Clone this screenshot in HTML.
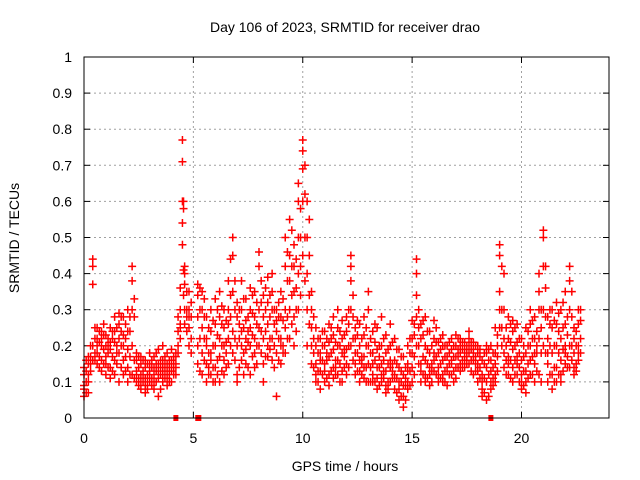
<!DOCTYPE html>
<html><head><meta charset="utf-8"><style>
body{margin:0;background:#fff}
svg{display:block;font-family:"Liberation Sans",sans-serif}
</style></head><body>
<svg id="chart" width="640" height="480" xmlns="http://www.w3.org/2000/svg">
<rect width="640" height="480" fill="#fff"/>
<text x="345" y="32" font-size="14" text-anchor="middle">Day 106 of 2023, SRMTID for receiver drao</text>
<text transform="translate(19,238) rotate(-90)" font-size="14" text-anchor="middle">SRMTID / TECUs</text>
<text x="345" y="471" font-size="14" text-anchor="middle">GPS time / hours</text>
<g id="grid"></g>
<g id="ticks"></g>
<g id="marks"></g>
<rect x="84" y="57" width="525" height="361" fill="none" stroke="#000" stroke-width="1"/>
</svg>
<script>
const xTicks=[0,5,10,15,20];
const yTicks=[0,0.1,0.2,0.3,0.4,0.5,0.6,0.7,0.8,0.9,1];
const yTickLabels=["0","0.1","0.2","0.3","0.4","0.5","0.6","0.7","0.8","0.9","1"];
const times=[0,0.2,0.4,0.6,0.8,1.0,1.2,1.4,1.6,1.8,2.0,2.2,2.4,2.6,2.8,3.0,3.2,3.4,3.6,3.8,4.0,4.2,4.4,4.5,4.6,4.8,5.2,5.4,5.6,5.8,6.0,6.2,6.4,6.6,6.8,7.0,7.2,7.4,7.6,7.8,8.0,8.2,8.4,8.6,8.8,9.0,9.2,9.4,9.6,9.8,10.0,10.2,10.4,10.6,10.8,11.0,11.2,11.4,11.6,11.8,12.0,12.2,12.4,12.6,12.8,13.0,13.2,13.4,13.6,13.8,14.0,14.2,14.4,14.6,14.8,15.0,15.2,15.4,15.6,15.8,16.0,16.2,16.4,16.6,16.8,17.0,17.2,17.4,17.6,17.8,18.0,18.2,18.4,18.6,18.8,19.0,19.2,19.4,19.6,19.8,20.0,20.2,20.4,20.6,20.8,21.0,21.2,21.4,21.6,21.8,22.0,22.2,22.4,22.6];
const values=[
[.06,.09,.12,.08,.14],[.07,.1,.15,.17,.12],[.44,.42,.37,.16,.2],[.15,.18,.22,.2,.25],[.13,.16,.2,.22,.24],
[.12,.2,.17,.23,.15],[.11,.14,.19,.21,.25],[.16,.21,.28,.12,.24],[.1,.18,.22,.26,.29],[.12,.2,.28,.23,.16],
[.1,.19,.3,.24,.14],[.42,.38,.3,.2,.12],[.1,.13,.16,.12,.18],[.08,.12,.15,.1,.17],[.09,.14,.11,.16,.07],
[.1,.13,.15,.12,.18],[.08,.12,.14,.1,.17],[.06,.11,.15,.13,.19],[.1,.14,.16,.12,.2],[.09,.13,.15,.18,.11],
[.1,.14,.13,.16,.19],[.12,.15,.18,.14,.17],[.22,.26,.3,.36,.25],[.77,.71,.6,.54,.48],[.42,.4,.3,.26,.37],
[.25,.3,.28,.35,.2],[.2,.28,.34,.37,.15],[.18,.25,.3,.12,.35],[.1,.15,.22,.28,.2],[.12,.18,.24,.3,.16],
[.14,.2,.26,.33,.1],[.1,.22,.28,.17,.35],[.12,.2,.25,.3,.16],[.15,.22,.3,.38,.26],[.5,.45,.35,.24,.18],
[.12,.2,.28,.32,.1],[.16,.24,.3,.38,.2],[.15,.22,.27,.33,.19],[.12,.2,.25,.3,.36],[.18,.22,.28,.35,.14],
[.46,.42,.3,.25,.2],[.15,.22,.28,.34,.1],[.2,.26,.32,.39,.17],[.4,.35,.3,.22,.16],[.06,.18,.24,.3,.27],
[.15,.22,.28,.35,.2],[.5,.42,.3,.25,.18],[.55,.45,.38,.3,.22],[.48,.42,.35,.28,.2],[.65,.6,.5,.4,.3],
[.77,.74,.69,.6,.45],[.6,.5,.4,.3,.2],[.35,.3,.25,.2,.15],[.1,.15,.2,.25,.12],[.13,.18,.22,.08,.16],
[.1,.15,.2,.24,.13],[.12,.17,.21,.26,.09],[.14,.19,.23,.28,.11],[.12,.16,.2,.25,.3],[.13,.18,.22,.27,.1],
[.15,.19,.24,.28,.12],[.45,.42,.38,.3,.2],[.12,.18,.22,.25,.15],[.1,.16,.2,.26,.13],[.11,.17,.23,.28,.14],
[.35,.3,.2,.15,.1],[.12,.18,.24,.1,.15],[.08,.14,.19,.25,.11],[.1,.15,.2,.28,.12],[.09,.13,.18,.23,.07],
[.1,.14,.2,.26,.16],[.08,.12,.16,.22,.11],[.05,.1,.14,.19,.08],[.03,.06,.12,.17,.09],[.1,.15,.2,.13,.08],
[.1,.14,.22,.27,.18],[.44,.4,.34,.28,.2],[.1,.15,.22,.26,.13],[.12,.16,.2,.28,.1],[.09,.14,.18,.24,.12],
[.13,.18,.22,.27,.16],[.1,.14,.18,.21,.12],[.12,.16,.2,.23,.1],[.14,.17,.2,.13,.09],[.12,.16,.19,.22,.15],
[.14,.17,.2,.23,.11],[.15,.18,.2,.22,.13],[.14,.17,.19,.21,.16],[.15,.18,.2,.22,.24],[.12,.16,.19,.21,.17],
[.1,.15,.18,.2,.13],[.06,.08,.12,.16,.1],[.05,.1,.14,.18,.2],[.1,.13,.16,.2,.08],[.12,.15,.18,.25,.1],
[.48,.45,.35,.3,.25],[.4,.3,.22,.18,.14],[.12,.17,.22,.28,.15],[.1,.14,.19,.24,.27],[.12,.17,.21,.26,.15],
[.08,.12,.16,.22,.1],[.1,.13,.18,.25,.07],[.12,.16,.2,.26,.3],[.1,.15,.22,.28,.18],[.4,.35,.3,.22,.12],
[.52,.5,.42,.3,.2],[.15,.22,.28,.18,.1],[.12,.18,.25,.3,.08],[.14,.2,.26,.32,.1],[.1,.16,.22,.3,.12],
[.15,.2,.26,.35,.18],[.42,.38,.3,.2,.14],[.14,.18,.22,.25,.12],[.16,.2,.26,.3,.18]];
const timesB=[0.1,0.3,0.5,0.7,0.9,1.1,1.3,1.5,1.7,1.9,2.1,2.3,2.5,2.7,2.9,3.1,3.3,3.5,3.7,3.9,4.1,4.3,4.55,4.7,4.9,5.3,5.5,5.7,5.9,6.1,6.3,6.5,6.7,6.9,7.1,7.3,7.5,7.7,7.9,8.1,8.3,8.5,8.7,8.9,9.1,9.3,9.5,9.7,9.9,10.1,10.3,10.5,10.7,10.9,11.1,11.3,11.5,11.7,11.9,12.1,12.3,12.5,12.7,12.9,13.1,13.3,13.5,13.7,13.9,14.1,14.3,14.5,14.7,14.9,15.1,15.3,15.5,15.7,15.9,16.1,16.3,16.5,16.7,16.9,17.1,17.3,17.5,17.7,17.9,18.1,18.3,18.5,18.7,18.9,19.1,19.3,19.5,19.7,19.9,20.1,20.3,20.5,20.7,20.9,21.1,21.3,21.5,21.7,21.9,22.1,22.3,22.5,22.7];
const valuesB=[
[.1,.13,.07,.16],[.15,.17,.2,.13],[.16,.22,.25,.18],[.17,.21,.24,.14],[.15,.19,.23,.26],
[.14,.18,.22,.2],[.13,.17,.22,.24],[.15,.2,.25,.18],[.14,.2,.24,.28],[.17,.22,.26,.13],
[.12,.17,.24,.28],[.33,.28,.16,.11],[.11,.14,.17,.09],[.1,.13,.16,.12],[.08,.12,.15,.1],
[.11,.14,.16,.09],[.1,.13,.15,.18],[.08,.12,.14,.16],[.11,.15,.13,.17],[.12,.14,.16,.1],
[.12,.15,.17,.14],[.2,.24,.28,.18],[.6,.58,.41,.34],[.3,.35,.28,.24],[.22,.28,.32,.18],
[.22,.3,.36,.13],[.16,.22,.28,.33],[.12,.18,.25,.14],[.14,.2,.27,.1],[.16,.23,.3,.12],
[.13,.2,.26,.31],[.14,.21,.27,.18],[.2,.28,.34,.44],[.38,.3,.22,.16],[.14,.22,.3,.26],
[.18,.25,.33,.12],[.14,.21,.28,.24],[.17,.23,.29,.34],[.2,.26,.32,.15],[.38,.32,.24,.18],
[.17,.24,.3,.36],[.22,.28,.34,.19],[.3,.26,.2,.14],[.16,.22,.28,.32],[.2,.27,.33,.18],
[.46,.38,.28,.22],[.52,.42,.34,.26],[.44,.36,.3,.24],[.58,.5,.42,.34],[.7,.62,.5,.38],
[.55,.45,.34,.26],[.28,.22,.18,.14],[.13,.18,.22,.1],[.12,.16,.2,.24],[.11,.16,.22,.18],
[.13,.18,.22,.25],[.12,.16,.21,.14],[.15,.2,.24,.1],[.14,.19,.23,.17],[.2,.26,.3,.14],
[.34,.28,.22,.16],[.13,.18,.23,.27],[.12,.17,.22,.15],[.14,.2,.25,.1],[.22,.18,.14,.1],
[.1,.16,.21,.26],[.09,.14,.2,.17],[.11,.16,.22,.13],[.1,.15,.19,.08],[.11,.15,.21,.13],
[.07,.11,.15,.19],[.06,.1,.13,.17],[.05,.09,.14,.11],[.09,.13,.18,.22],[.12,.17,.23,.26],
[.3,.25,.2,.15],[.12,.17,.23,.27],[.11,.15,.19,.24],[.1,.15,.2,.13],[.12,.17,.21,.25],
[.11,.15,.19,.22],[.13,.17,.2,.1],[.12,.15,.18,.21],[.13,.17,.2,.1],[.14,.17,.19,.22],
[.14,.16,.19,.21],[.15,.18,.2,.17],[.16,.19,.21,.13],[.13,.17,.2,.15],[.11,.14,.17,.19],
[.07,.11,.15,.18],[.06,.12,.16,.19],[.11,.14,.18,.09],[.13,.17,.2,.23],[.42,.3,.25,.2],
[.25,.2,.16,.12],[.11,.16,.21,.26],[.12,.16,.2,.25],[.1,.14,.18,.22],[.09,.13,.17,.2],
[.11,.15,.2,.24],[.12,.17,.22,.27],[.13,.18,.24,.2],[.3,.25,.18,.1],[.42,.36,.28,.18],
[.2,.26,.3,.12],[.14,.2,.27,.1],[.12,.18,.24,.29],[.13,.19,.25,.32],[.17,.23,.28,.14],
[.35,.28,.2,.16],[.15,.2,.24,.13],[.18,.22,.27,.3]];
const zeroTimes=[4.2,5.2,5.25,18.6];

const X0=84,X1=609,Y0=418,Y1=57,XMAX=24;
function xs(t){return X0+(X1-X0)*t/XMAX;}
function ys(v){return Y0-(Y0-Y1)*v;}
const NS="http://www.w3.org/2000/svg";
function mk(tag,attrs,parent){const e=document.createElementNS(NS,tag);for(const k in attrs)e.setAttribute(k,attrs[k]);parent.appendChild(e);return e;}
const grid=document.getElementById('grid'),ticks=document.getElementById('ticks'),marks=document.getElementById('marks');
yTicks.forEach((v,i)=>{
  const y=ys(v);
  if(v>0&&v<1){const g=mk('line',{x1:X0,x2:X1,y1:y,y2:y,stroke:'#a0a0a0','stroke-dasharray':'2,3'},grid);
  
  }
  mk('line',{x1:X0,x2:X0+6,y1:y,y2:y,stroke:'#000'},ticks);
  mk('line',{x1:X1-6,x2:X1,y1:y,y2:y,stroke:'#000'},ticks);
  const t=mk('text',{x:72,y:y+5,'font-size':14,'text-anchor':'end'},ticks);
  t.textContent=yTickLabels[i];
  
  
});
xTicks.forEach(v=>{
  const x=xs(v);
  if(v>0){const g=mk('line',{x1:x,x2:x,y1:Y0,y2:Y1,stroke:'#a0a0a0','stroke-dasharray':'2,3'},grid);
  
  }
  mk('line',{x1:x,x2:x,y1:Y0,y2:Y0-6,stroke:'#000'},ticks);
  mk('line',{x1:x,x2:x,y1:Y1,y2:Y1+6,stroke:'#000'},ticks);
  const t=mk('text',{x:x,y:443,'font-size':14,'text-anchor':'middle'},ticks);
  t.textContent=String(v);
  
  
});
let d='';
function addPts(ts,vs){ts.forEach((t,i)=>{(vs[i]||[]).forEach(v=>{const x=xs(t),y=ys(v);d+=`M${x-4},${y}h8M${x},${y-4}v8`;});});}
addPts(times,values);
addPts(timesB,valuesB);
const p=mk('path',{d:d,stroke:'#f00','stroke-width':1.5,fill:'none'},marks);


zeroTimes.forEach(t=>{
  const r=mk('rect',{x:xs(t)-2.5,y:Y0-3,width:5,height:6,fill:'#f00'},marks);
  
  
});
</script>
</body></html>
